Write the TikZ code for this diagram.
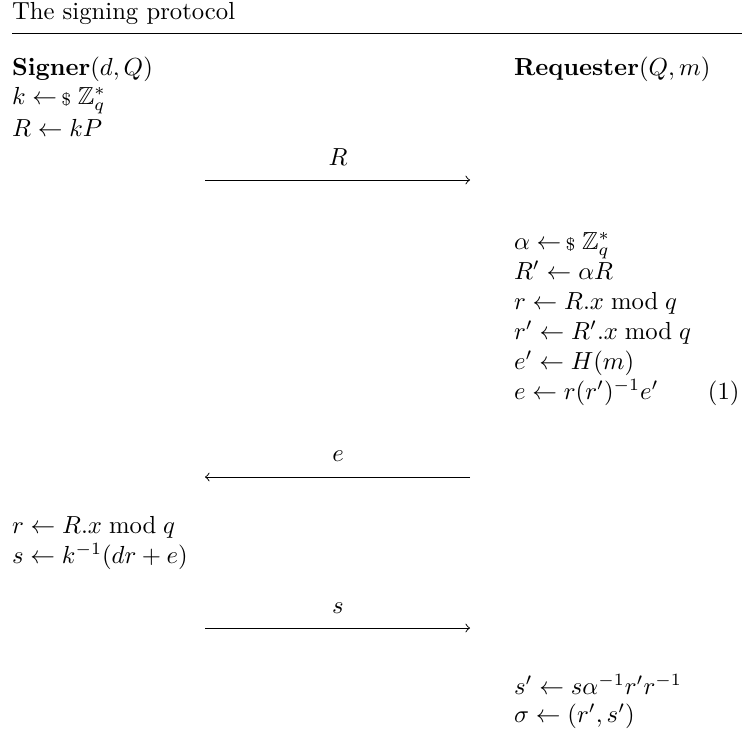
\documentclass[tikz,border=0pt]{standalone}
\usepackage{amsmath,amssymb}
\newcommand{\smp}{\mathrel{\leftarrow\mkern-2mu\raisebox{-0.15ex}{\text{\scriptsize\$}}}}
\tikzset{
  txt/.style={anchor=base west,inner sep=0pt,outer sep=0pt},
  lbl/.style={anchor=base,inner sep=0pt,outer sep=0pt},
  msg/.style={->,line width=0.4pt},
}
\begin{document}
\begin{tikzpicture}[x=0.405pt,y=-0.405pt]
\useasboundingbox (0,0) rectangle (743,754);
\node[txt] (title) at (12,19) {The signing protocol};
\coordinate (rl) at (12,33);
\coordinate (rr) at (742,33);
\draw[line width=0.4pt] (rl) -- (rr);
% Signer column
\node[txt] (sg) at (12,75) {$\mathbf{Signer}(d,Q)$};
\node[txt] (s1) at (12,104) {$k \smp \mathbb{Z}_q^*$};
\node[txt] (s2) at (12,136) {$R \leftarrow kP$};
\node[txt] (s3) at (12,533) {$r \leftarrow R.x \bmod q$};
\node[txt] (s4) at (12,563) {$s \leftarrow k^{-1}(dr+e)$};
% Requester column
\node[txt] (rq) at (514,75) {$\mathbf{Requester}(Q,m)$};
\node[txt] (q1) at (514,249) {$\alpha \smp \mathbb{Z}_q^*$};
\node[txt] (q2) at (514,279) {$R' \leftarrow \alpha R$};
\node[txt] (q3) at (514,309) {$r \leftarrow R.x \bmod q$};
\node[txt] (q4) at (514,339) {$r' \leftarrow R'.x \bmod q$};
\node[txt] (q5) at (514,369) {$e' \leftarrow H(m)$};
\node[txt] (q6) at (514,399) {$e \leftarrow r(r')^{-1}e'$};
\node[anchor=base east,inner sep=0pt] (eqn) at (740,399) {(1)};
\node[txt] (q7) at (514,694) {$s' \leftarrow s\alpha^{-1}r'r^{-1}$};
\node[txt] (q8) at (514,722) {$\sigma \leftarrow (r',s')$};
% messages
\coordinate (m1a) at (205,180); \coordinate (m1b) at (470,180);
\draw[msg] (m1a) -- (m1b);
\node[lbl] (l1) at (338,165) {$R$};
\coordinate (m2a) at (470,477); \coordinate (m2b) at (205,477);
\draw[msg] (m2a) -- (m2b);
\node[lbl] (l2) at (338,461) {$e$};
\coordinate (m3a) at (205,628); \coordinate (m3b) at (470,628);
\draw[msg] (m3a) -- (m3b);
\node[lbl] (l3) at (338,613) {$s$};
\end{tikzpicture}
\end{document}
